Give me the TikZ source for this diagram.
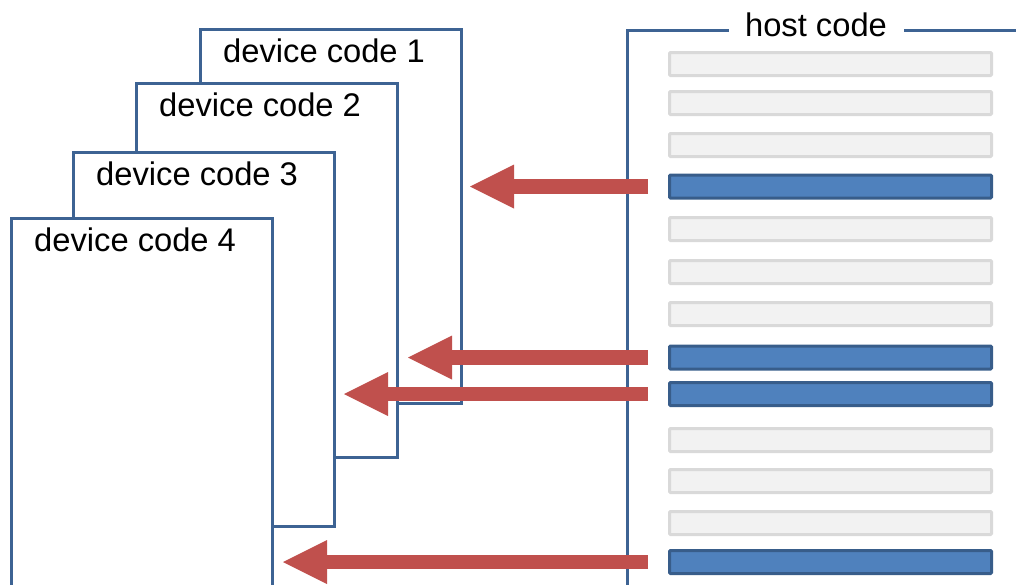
\documentclass[tikz,border=0pt]{standalone}
\usepackage{fontspec}
\setmainfont{Liberation Sans}
\usetikzlibrary{arrows.meta,calc}
\definecolor{boxblue}{HTML}{3D6393}
\definecolor{barborder}{HTML}{D9D9D9}
\definecolor{barfill}{HTML}{F2F2F2}
\definecolor{bluebarborder}{HTML}{385D8A}
\definecolor{bluebarfill}{HTML}{4F81BD}
\definecolor{callred}{HTML}{C0504D}
\begin{document}
\begin{tikzpicture}[x=1pt,y=-1pt,
  devbox/.style={draw=boxblue,line width=3pt,fill=white,inner sep=0pt,outer sep=0pt,minimum width=261pt,minimum height=374pt},
  devlabel/.style={anchor=base west,inner sep=0pt,font=\fontsize{32.7}{39}\selectfont},
  graybar/.style={draw=barborder,fill=barfill,line width=3pt,minimum width=322pt,minimum height=23pt,inner sep=0pt,outer sep=0pt,rounded corners=1pt},
  bluebar/.style={graybar,draw=bluebarborder,fill=bluebarfill},
  callarrow/.style={draw=callred,line width=14.5pt,-{Triangle[length=44pt,width=44pt,line width=0pt]}},
  hostline/.style={draw=boxblue,line width=3pt}]
\useasboundingbox (0,0) rectangle (1016,584);
\clip (0,0) rectangle (1016,584);
% device code boxes
\node[devbox] (d1) at (330.5,216) {};
\node[devbox] (d2) at (266.5,270) {};
\node[devbox] (d3) at (203.5,339) {};
\node[devbox] (d4) at (141.5,405) {};
\node[devlabel] (l1) at ([xshift=23pt,yshift=-33pt]d1.north west) {device code 1};
\node[devlabel] (l2) at ([xshift=23pt,yshift=-33pt]d2.north west) {device code 2};
\node[devlabel] (l3) at ([xshift=23pt,yshift=-33pt]d3.north west) {device code 3};
\node[devlabel] (l4) at ([xshift=23pt,yshift=-33pt]d4.north west) {device code 4};
% host code frame
\node[devlabel,anchor=base] (host) at (816,36) {host code};
\coordinate (hl) at (627,30.5);
\coordinate (hb) at (627,600);
\draw[hostline] (hb) -- (hl) -- ($(host.west |- hl)+(-16,0)$);
\draw[hostline] ($(host.east |- hl)+(17,0)$) -- (1020,30.5);
% host code lines
\node[graybar] (b1) at (830.5,64) {};
\node[graybar] (b2) at (830.5,103) {};
\node[graybar] (b3) at (830.5,145) {};
\node[bluebar] (b4) at (830.5,186.5) {};
\node[graybar] (b5) at (830.5,229) {};
\node[graybar] (b6) at (830.5,272) {};
\node[graybar] (b7) at (830.5,314) {};
\node[bluebar] (b8) at (830.5,357.5) {};
\node[bluebar] (b9) at (830.5,394) {};
\node[graybar] (b10) at (830.5,440) {};
\node[graybar] (b11) at (830.5,481) {};
\node[graybar] (b12) at (830.5,523) {};
\node[bluebar] (b13) at (830.5,562) {};
% calls
\draw[callarrow] ([xshift=-21.5pt]b4.west) -- ($(d1.east |- b4.west)+(9,0)$);
\draw[callarrow] ([xshift=-21.5pt]b8.west) -- ($(d2.east |- b8.west)+(11,0)$);
\draw[callarrow] ([xshift=-21.5pt]b9.west) -- ($(d3.east |- b9.west)+(10,0)$);
\draw[callarrow] ([xshift=-21.5pt]b13.west) -- ($(d4.east |- b13.west)+(11,0)$);
\end{tikzpicture}
\end{document}
